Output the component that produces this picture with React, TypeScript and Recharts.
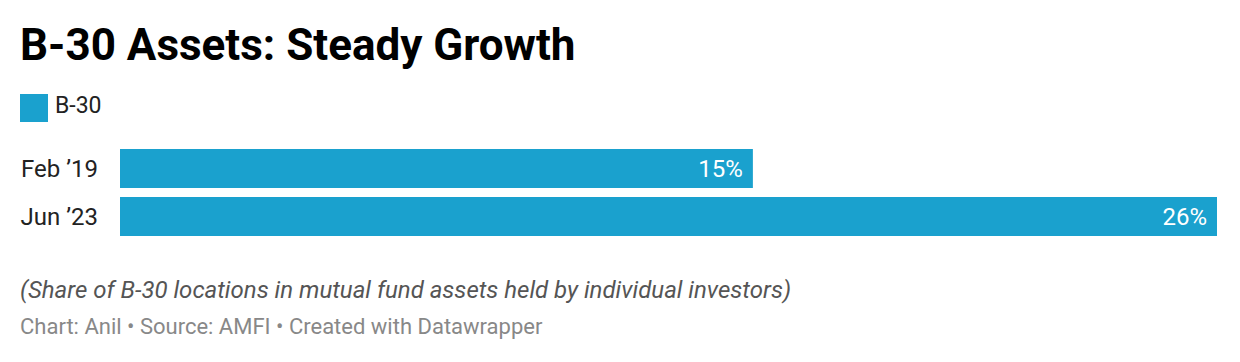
import { Bar, BarChart, LabelList, XAxis, YAxis } from "recharts";

// values
const periods = ["Feb ’19", "Jun ’23"];
const b30Share = [15, 26];
const seriesName = "B-30";

const BAR_COLOR = "#1aa1ce";
const FONT = "Roboto, 'Noto Sans', sans-serif";

const data = periods.map((period, i) => ({ period, value: b30Share[i] }));

if (typeof document !== "undefined") {
  document.body.style.margin = "0";
}

const textAt = (top: number, size: number) => ({
  position: "absolute" as const,
  left: 20,
  top,
  fontSize: size,
  lineHeight: "normal",
  whiteSpace: "nowrap" as const,
});

export default function App() {
  return (
    <div
      style={{
        position: "relative",
        width: 1240,
        height: 362,
        background: "#fff",
        fontFamily: FONT,
        overflow: "hidden",
      }}
    >
      <div style={{ ...textAt(19, 44), fontWeight: 700, color: "#000" }}>
        B-30 Assets: Steady Growth
      </div>

      {/* legend */}
      <span
        style={{
          position: "absolute",
          left: 20,
          top: 94,
          width: 28,
          height: 28,
          background: BAR_COLOR,
        }}
      />
      <div style={{ ...textAt(92, 23), left: 55, color: "#222" }}>
        {seriesName}
      </div>

      <div style={{ position: "absolute", left: 0, top: 140 }}>
        <BarChart
          width={1240}
          height={104}
          data={data}
          layout="vertical"
          margin={{ top: 4, right: 23, bottom: 4, left: 20 }}
          barSize={39}
        >
          <XAxis type="number" domain={[0, 26]} hide />
          <YAxis
            type="category"
            dataKey="period"
            width={100}
            axisLine={false}
            tickLine={false}
            tickSize={0}
            tickMargin={22}
            tick={{ fill: "#222", fontSize: 24, fontFamily: FONT }}
          />
          <Bar dataKey="value" fill={BAR_COLOR} isAnimationActive={false}>
            <LabelList
              dataKey="value"
              position="insideRight"
              offset={10}
              formatter={(v: any) => `${v}%`}
              style={{ fill: "#fff", fontSize: 24, fontFamily: FONT }}
            />
          </Bar>
        </BarChart>
      </div>

      <div style={{ ...textAt(276, 24), fontStyle: "italic", color: "#555" }}>
        (Share of B-30 locations in mutual fund assets held by individual investors)
      </div>
      <div style={{ ...textAt(314, 22), color: "#888" }}>
        Chart: Anil • Source: AMFI • Created with Datawrapper
      </div>
    </div>
  );
}
